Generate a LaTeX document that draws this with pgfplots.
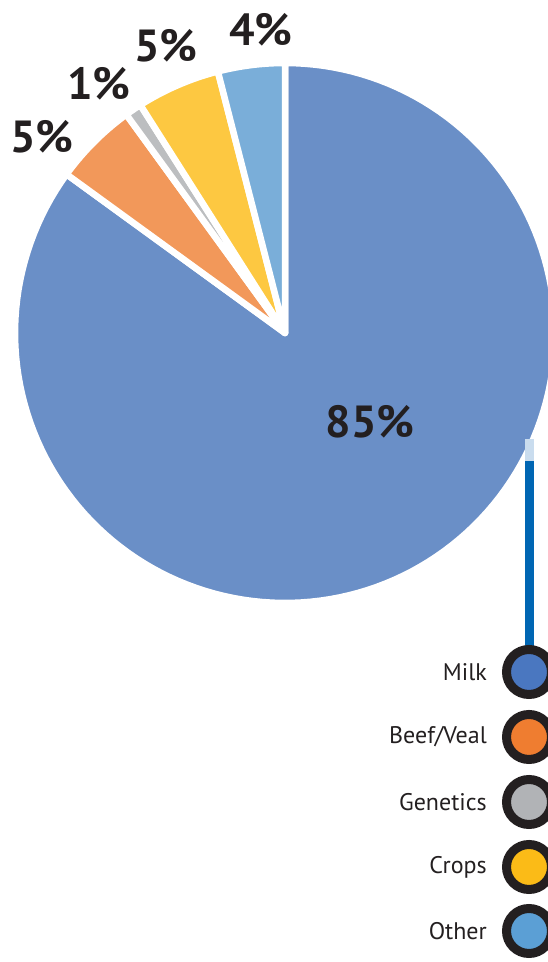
\documentclass[border=0pt]{standalone}
\usepackage{pgfplots}
\pgfplotsset{compat=1.18}
\usepackage{fontspec}
\setmainfont{PT Sans}
\definecolor{cMilk}{HTML}{6A8FC7}
\definecolor{cBeef}{HTML}{F2985A}
\definecolor{cGen}{HTML}{BCBEC0}
\definecolor{cCrops}{HTML}{FDC841}
\definecolor{cOther}{HTML}{7AAED9}
\definecolor{lMilk}{HTML}{4A77C0}
\definecolor{lBeef}{HTML}{EF7D30}
\definecolor{lGen}{HTML}{B1B3B6}
\definecolor{lCrops}{HTML}{FBBB17}
\definecolor{lOther}{HTML}{5B9FD5}
\definecolor{ring}{HTML}{231F20}
\definecolor{txt}{HTML}{231F20}
\definecolor{lineblue}{HTML}{0066B3}
\definecolor{palebl}{HTML}{C9DCEE}
% data: percentages, clockwise from the top
\def\vMilk{85}\def\vBeef{5}\def\vGen{1}\def\vCrops{5}\def\vOther{4}
\pgfmathsetmacro\aA{90}
\pgfmathsetmacro\aB{\aA-3.6*\vMilk}
\pgfmathsetmacro\aC{\aB-3.6*\vBeef}
\pgfmathsetmacro\aD{\aC-3.6*\vGen}
\pgfmathsetmacro\aE{\aD-3.6*\vCrops}
\pgfmathsetmacro\aF{\aE-3.6*\vOther}
\newcommand\slice[3]{%
  \addplot[fill=#3, draw=white, line width=6.5bp, line join=round,
    domain=#1:#2, samples=150, variable=\t]
    ({285+270*cos(t)},{-333+270*sin(t)}) -- (285,-333) -- cycle;}
\begin{document}
\begin{tikzpicture}
\begin{axis}[width=548bp, height=962bp, scale only axis,
  xmin=0, xmax=548, ymin=-962, ymax=0, hide axis,
  clip marker paths=true]
\slice{\aB}{\aA}{cMilk}
\slice{\aC}{\aB}{cBeef}
\slice{\aD}{\aC}{cGen}
\slice{\aE}{\aD}{cCrops}
\slice{\aF}{\aE}{cOther}
% connector
\addplot[color=lineblue, line width=9bp] coordinates {(529,-460) (529,-655)};
\addplot[color=palebl, line width=9bp] coordinates {(529,-439) (529,-461)};
% legend markers
\addplot[only marks, mark=*, mark size=22.5bp, mark options={fill=lMilk, draw=ring, line width=9bp}] coordinates {(529,-672)};
\addplot[only marks, mark=*, mark size=22.5bp, mark options={fill=lBeef, draw=ring, line width=9bp}] coordinates {(529,-737)};
\addplot[only marks, mark=*, mark size=22.5bp, mark options={fill=lGen, draw=ring, line width=9bp}] coordinates {(529,-802)};
\addplot[only marks, mark=*, mark size=22.5bp, mark options={fill=lCrops, draw=ring, line width=9bp}] coordinates {(529,-867)};
\addplot[only marks, mark=*, mark size=22.5bp, mark options={fill=lOther, draw=ring, line width=9bp}] coordinates {(529,-931)};
% legend text
\foreach \lab/\yy in {Milk/672, Beef\slash Veal/737, Genetics/802, Crops/867, Other/931}{
  \edef\tmp{\noexpand\node[anchor=east, text=txt, font=\noexpand\fontsize{24bp}{26bp}\noexpand\selectfont, inner sep=0pt] at (axis cs:487,-\yy) {\unexpanded\expandafter{\lab}};}\tmp
}
% percentage labels
\tikzset{pct/.style={text=txt, font=\bfseries\fontsize{45bp}{46bp}\selectfont, inner sep=0pt}}
\node[pct] at (axis cs:370,-422) {85\%};
\node[pct] at (axis cs:42,-137) {5\%};
\node[pct] at (axis cs:99,-84) {1\%};
\node[pct] at (axis cs:166,-46) {5\%};
\node[pct] at (axis cs:261,-30) {4\%};
\end{axis}
\pgfresetboundingbox
\path (current axis.south west) rectangle (current axis.north east);
\end{tikzpicture}
\end{document}
